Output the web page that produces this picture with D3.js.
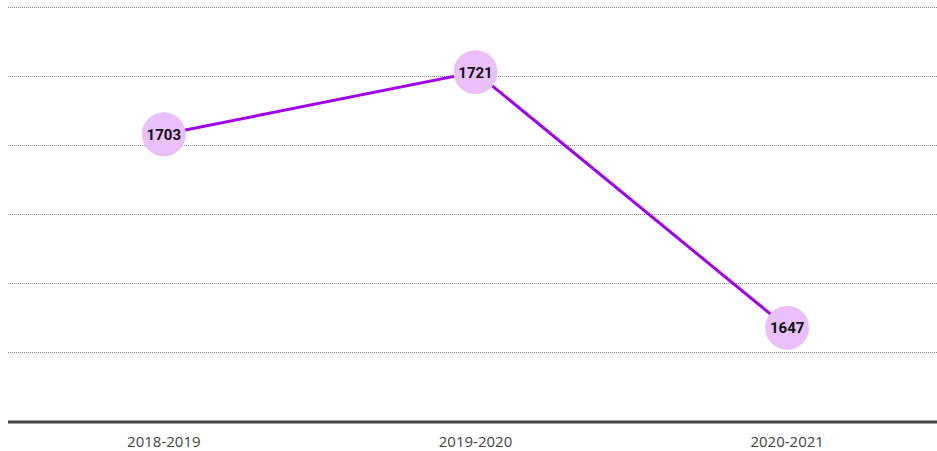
<!DOCTYPE html>
<html>
<head>
<meta charset="utf-8">
<script src="https://cdn.jsdelivr.net/npm/d3@7"></script>
<style>
  body { margin: 0; background: #fff; }
  svg { display: block; }
</style>
</head>
<body>
<svg></svg>
<script>
const width = 937,
      height = 451;

// Data
const years = ["2018-2019", "2019-2020", "2020-2021"];
const values = [1703, 1721, 1647];
const gridTicks = [1640, 1660, 1680, 1700, 1720, 1740];

const svg = d3.select("svg")
              .attr("width", width)
              .attr("height", height);

// x scale - one band per school year
const x = d3.scaleBand()
            .domain(years)
            .range([8, 943]);

// y scale - baseline sits at 1620
const y = d3.scaleLinear()
            .domain([1620, 1740])
            .range([421, 6.5]);

// Dotted gridlines
svg.append("g")
   .selectAll("line")
   .data(gridTicks)
   .enter().append("line")
   .attr("x1", 8)
   .attr("x2", width)
   .attr("y1", (d) => Math.round(y(d)) + 0.5)
   .attr("y2", (d) => Math.round(y(d)) + 0.5)
   .attr("stroke", "#8a8a8a")
   .attr("stroke-width", 1)
   .attr("stroke-dasharray", "1,1");

// Baseline
svg.append("line")
   .attr("x1", 8)
   .attr("x2", width)
   .attr("y1", y(1620) + 1)
   .attr("y2", y(1620) + 1)
   .attr("stroke", "#444")
   .attr("stroke-width", 3);

// x axis labels
svg.append("g")
   .selectAll("text")
   .data(years)
   .enter().append("text")
   .attr("x", (d) => x(d) + x.bandwidth() / 2)
   .attr("y", 447)
   .attr("text-anchor", "middle")
   .attr("font-family", "'Open Sans', sans-serif")
   .attr("font-size", "15px")
   .attr("fill", "#444")
   .text((d) => d);

const points = years.map((d, i) => [x(d) + x.bandwidth() / 2, y(values[i])]);

// Line
svg.append("path")
   .attr("d", d3.line()(points))
   .attr("fill", "none")
   .attr("stroke", "#a200f0")
   .attr("stroke-width", 3);

// Markers
const marks = svg.append("g")
                 .selectAll("g")
                 .data(points)
                 .enter().append("g")
                 .attr("transform", (d) => "translate(" + d[0] + "," + d[1] + ")");

marks.append("circle")
     .attr("r", 22)
     .attr("fill", "#e9bffc");

marks.append("text")
     .attr("text-anchor", "middle")
     .attr("dy", "0.36em")
     .attr("font-family", "Roboto, sans-serif")
     .attr("font-weight", "bold")
     .attr("font-size", "15px")
     .attr("fill", "#111")
     .text((d, i) => values[i]);
</script>
</body>
</html>
